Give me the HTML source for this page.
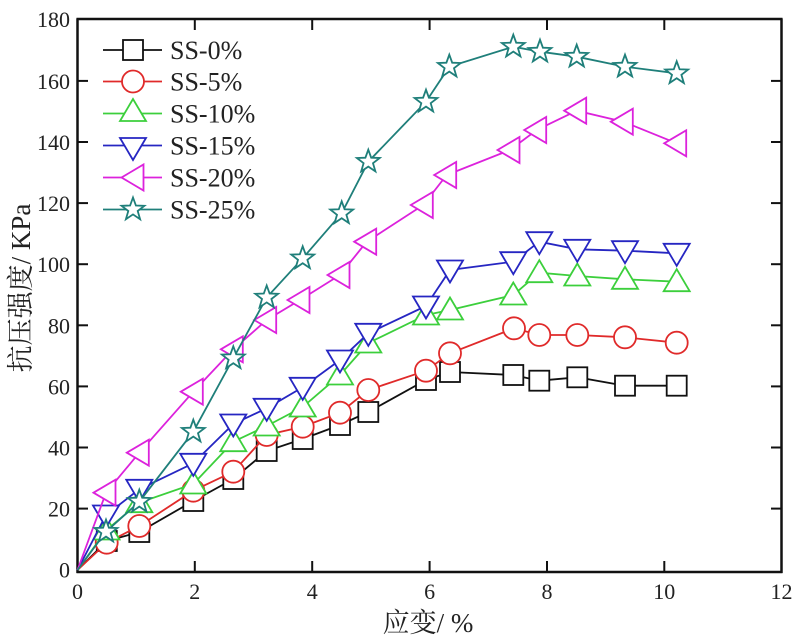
<!DOCTYPE html>
<html><head><meta charset="utf-8"><style>
html,body{margin:0;padding:0;background:#fff;}
svg{display:block;}
text{font-family:"Liberation Serif","Noto Serif CJK SC",serif;fill:#222;}
</style></head><body>
<svg width="800" height="641" viewBox="0 0 800 641" xmlns="http://www.w3.org/2000/svg">
<defs>
<rect id="sq" x="-10" y="-10" width="20" height="20"/>
<circle id="ci" r="11"/>
<polygon id="tu" points="0,-12.5 -13,9.5 13,9.5"/>
<polygon id="td" points="0,12.5 -13,-9.5 13,-9.5"/>
<polygon id="tl" points="-12.5,0 9.5,-13 9.5,13"/>
<polygon id="st" points="0,-12 2.9,-4 11.4,-3.7 4.7,1.5 7.1,9.7 0,4.9 -7.1,9.7 -4.7,1.5 -11.4,-3.7 -2.9,-4"/>
</defs>
<!-- axes frame -->
<g stroke="#111" stroke-width="2.5" fill="none">
<line x1="77.5" y1="18.5" x2="77.5" y2="573"/>
<line x1="76.5" y1="572" x2="782.5" y2="572"/>
<line x1="781.5" y1="18.5" x2="781.5" y2="573"/>
<line x1="76.5" y1="19" x2="782.5" y2="19"/>
</g>
<g stroke="#111" stroke-width="2">
<!-- x ticks bottom/top -->
<line x1="194.8" y1="572" x2="194.8" y2="561"/><line x1="312.2" y1="572" x2="312.2" y2="561"/><line x1="429.6" y1="572" x2="429.6" y2="561"/><line x1="547" y1="572" x2="547" y2="561"/><line x1="664.3" y1="572" x2="664.3" y2="561"/>
<line x1="194.8" y1="19" x2="194.8" y2="30"/><line x1="312.2" y1="19" x2="312.2" y2="30"/><line x1="429.6" y1="19" x2="429.6" y2="30"/><line x1="547" y1="19" x2="547" y2="30"/><line x1="664.3" y1="19" x2="664.3" y2="30"/>
<!-- y ticks left/right -->
<line x1="77.5" y1="508.6" x2="88" y2="508.6"/><line x1="77.5" y1="447.5" x2="88" y2="447.5"/><line x1="77.5" y1="386.4" x2="88" y2="386.4"/><line x1="77.5" y1="325.3" x2="88" y2="325.3"/><line x1="77.5" y1="264.2" x2="88" y2="264.2"/><line x1="77.5" y1="203.1" x2="88" y2="203.1"/><line x1="77.5" y1="142" x2="88" y2="142"/><line x1="77.5" y1="80.9" x2="88" y2="80.9"/>
<line x1="781.5" y1="508.6" x2="771" y2="508.6"/><line x1="781.5" y1="447.5" x2="771" y2="447.5"/><line x1="781.5" y1="386.4" x2="771" y2="386.4"/><line x1="781.5" y1="325.3" x2="771" y2="325.3"/><line x1="781.5" y1="264.2" x2="771" y2="264.2"/><line x1="781.5" y1="203.1" x2="771" y2="203.1"/><line x1="781.5" y1="142" x2="771" y2="142"/><line x1="781.5" y1="80.9" x2="771" y2="80.9"/>
</g>
<!-- tick labels -->
<g font-size="22" text-anchor="end">
<text x="70" y="577.5">0</text><text x="70" y="516.5">20</text><text x="70" y="455.5">40</text><text x="70" y="394.5">60</text><text x="70" y="333.5">80</text><text x="70" y="272">100</text><text x="70" y="211">120</text><text x="70" y="150">140</text><text x="70" y="89">160</text><text x="70" y="27">180</text>
</g>
<g font-size="22" text-anchor="middle">
<text x="77.5" y="599">0</text><text x="194.8" y="599">2</text><text x="312.2" y="599">4</text><text x="429.6" y="599">6</text><text x="547" y="599">8</text><text x="664.3" y="599">10</text><text x="781.5" y="599">12</text>
</g>
<text x="428" y="632" font-size="27" text-anchor="middle">应变/ %</text>
<text transform="translate(30,288) rotate(-90)" font-size="27" text-anchor="middle">抗压强度/ KPa</text>

<!-- SS-0 -->
<g stroke="#111" stroke-width="1.8" fill="#fff">
<polyline fill="none" points="77.5,570 106.8,541 139.3,532 193.3,501 233.3,479 266.7,451 302.7,439 340,425 368.3,412 426,380 450,372 513.3,375 539.3,380.7 577.3,377.3 625,385.7 676.7,385.7"/>
<use href="#sq" x="106.8" y="541"/><use href="#sq" x="139.3" y="532"/><use href="#sq" x="193.3" y="501"/><use href="#sq" x="233.3" y="479"/><use href="#sq" x="266.7" y="451"/><use href="#sq" x="302.7" y="439"/><use href="#sq" x="340" y="425"/><use href="#sq" x="368.3" y="412"/><use href="#sq" x="426" y="380"/><use href="#sq" x="450" y="372"/><use href="#sq" x="513.3" y="375"/><use href="#sq" x="539.3" y="380.7"/><use href="#sq" x="577.3" y="377.3"/><use href="#sq" x="625" y="385.7"/><use href="#sq" x="676.7" y="385.7"/>
</g>
<!-- SS-5 -->
<g stroke="#e02a2a" stroke-width="1.8" fill="#fff">
<polyline fill="none" points="77.5,570 106.7,542.7 139.3,526 193.3,490.7 233.3,471.7 266.7,435 302.7,426.7 340,412.7 368.3,390 426,370.7 450,353.3 514,328.3 539.3,335 577.3,335 625,337.3 676.7,342.7"/>
<use href="#ci" x="106.7" y="542.7"/><use href="#ci" x="139.3" y="526"/><use href="#ci" x="193.3" y="490.7"/><use href="#ci" x="233.3" y="471.7"/><use href="#ci" x="266.7" y="435"/><use href="#ci" x="302.7" y="426.7"/><use href="#ci" x="340" y="412.7"/><use href="#ci" x="368.3" y="390"/><use href="#ci" x="426" y="370.7"/><use href="#ci" x="450" y="353.3"/><use href="#ci" x="514" y="328.3"/><use href="#ci" x="539.3" y="335"/><use href="#ci" x="577.3" y="335"/><use href="#ci" x="625" y="337.3"/><use href="#ci" x="676.7" y="342.7"/>
</g>
<!-- SS-10 -->
<g stroke="#3ccf3c" stroke-width="1.8" fill="#fff">
<polyline fill="none" points="77.5,570 106.5,530 139.3,502.7 193.3,484 233.3,441.7 266.7,426 302.7,407 340,375 368.3,343 426,315 450,310 513.3,295 539.3,272.7 577.3,276 625,279.3 676.7,281.7"/>
<use href="#tu" x="106.5" y="530"/><use href="#tu" x="139.3" y="502.7"/><use href="#tu" x="193.3" y="484"/><use href="#tu" x="233.3" y="441.7"/><use href="#tu" x="266.7" y="426"/><use href="#tu" x="302.7" y="407"/><use href="#tu" x="340" y="375"/><use href="#tu" x="368.3" y="343"/><use href="#tu" x="426" y="315"/><use href="#tu" x="450" y="310"/><use href="#tu" x="513.3" y="295"/><use href="#tu" x="539.3" y="272.7"/><use href="#tu" x="577.3" y="276"/><use href="#tu" x="625" y="279.3"/><use href="#tu" x="676.7" y="281.7"/>
</g>
<!-- SS-15 -->
<g stroke="#2626c2" stroke-width="1.8" fill="#fff">
<polyline fill="none" points="77.5,570 106,515 139.3,489.3 193.3,463.3 233.3,424 266.7,408.3 302.7,387.3 340,360 368.3,333.3 426,306 450,270 513.3,261.7 539.3,241.7 577.3,249.3 625,250.7 676.7,253.3"/>
<use href="#td" x="106" y="515"/><use href="#td" x="139.3" y="489.3"/><use href="#td" x="193.3" y="463.3"/><use href="#td" x="233.3" y="424"/><use href="#td" x="266.7" y="408.3"/><use href="#td" x="302.7" y="387.3"/><use href="#td" x="340" y="360"/><use href="#td" x="368.3" y="333.3"/><use href="#td" x="426" y="306"/><use href="#td" x="450" y="270"/><use href="#td" x="513.3" y="261.7"/><use href="#td" x="539.3" y="241.7"/><use href="#td" x="577.3" y="249.3"/><use href="#td" x="625" y="250.7"/><use href="#td" x="676.7" y="253.3"/>
</g>
<!-- SS-20 -->
<g stroke="#dc22dc" stroke-width="1.8" fill="#fff">
<polyline fill="none" points="77.5,570 106,492.7 139.3,452.7 193.3,391.7 233.3,349.3 266.7,320 300,300 340,275 366.7,241.7 423.3,205 446.7,175 510,150 536.7,130 576.7,110.7 623.3,121.7 676.7,143.3"/>
<use href="#tl" x="106" y="492.7"/><use href="#tl" x="139.3" y="452.7"/><use href="#tl" x="193.3" y="391.7"/><use href="#tl" x="233.3" y="349.3"/><use href="#tl" x="266.7" y="320"/><use href="#tl" x="300" y="300"/><use href="#tl" x="340" y="275"/><use href="#tl" x="366.7" y="241.7"/><use href="#tl" x="423.3" y="205"/><use href="#tl" x="446.7" y="175"/><use href="#tl" x="510" y="150"/><use href="#tl" x="536.7" y="130"/><use href="#tl" x="576.7" y="110.7"/><use href="#tl" x="623.3" y="121.7"/><use href="#tl" x="676.7" y="143.3"/>
</g>
<!-- SS-25 -->
<g stroke="#1f7f7a" stroke-width="1.8" fill="#fff">
<polyline fill="none" points="77.5,570 106,531.7 139.3,501.7 193.3,431.7 233.3,358.3 266.7,297.5 302.7,258.3 341.7,213.3 368.3,161.7 426,101.7 449.3,66.7 513.3,46.7 540,51.7 576.7,56.7 625,66.7 676.7,73.3"/>
<use href="#st" x="106" y="531.7"/><use href="#st" x="139.3" y="501.7"/><use href="#st" x="193.3" y="431.7"/><use href="#st" x="233.3" y="358.3"/><use href="#st" x="266.7" y="297.5"/><use href="#st" x="302.7" y="258.3"/><use href="#st" x="341.7" y="213.3"/><use href="#st" x="368.3" y="161.7"/><use href="#st" x="426" y="101.7"/><use href="#st" x="449.3" y="66.7"/><use href="#st" x="513.3" y="46.7"/><use href="#st" x="540" y="51.7"/><use href="#st" x="576.7" y="56.7"/><use href="#st" x="625" y="66.7"/><use href="#st" x="676.7" y="73.3"/>
</g>

<!-- legend -->
<g stroke-width="1.8" fill="#fff">
<g stroke="#111"><line x1="103" y1="50" x2="162" y2="50"/><use href="#sq" x="133" y="50"/></g>
<g stroke="#e02a2a"><line x1="103" y1="81.5" x2="162" y2="81.5"/><use href="#ci" x="133" y="81.5"/></g>
<g stroke="#3ccf3c"><line x1="103" y1="113.5" x2="162" y2="113.5"/><use href="#tu" x="133" y="111.5"/></g>
<g stroke="#2626c2"><line x1="103" y1="145.5" x2="162" y2="145.5"/><use href="#td" x="133" y="147.5"/></g>
<g stroke="#dc22dc"><line x1="103" y1="177.5" x2="162" y2="177.5"/><use href="#tl" x="134" y="177.5"/></g>
<g stroke="#1f7f7a"><line x1="103" y1="209.5" x2="162" y2="209.5"/><use href="#st" x="133" y="209.5"/></g>
</g>
<g font-size="26">
<text x="170" y="59">SS-0%</text>
<text x="170" y="90.5">SS-5%</text>
<text x="170" y="122.5">SS-10%</text>
<text x="170" y="154.5">SS-15%</text>
<text x="170" y="186.5">SS-20%</text>
<text x="170" y="218.5">SS-25%</text>
</g>
</svg>
</body></html>
